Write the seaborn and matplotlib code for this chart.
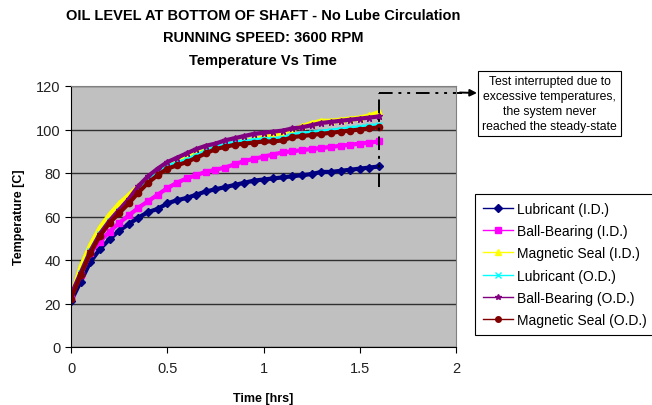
import matplotlib
matplotlib.use("Agg")
import matplotlib.pyplot as plt
import seaborn as sns
import numpy as np
import pandas as pd

# time axis [hrs]
time_hrs = [0.00, 0.05, 0.10, 0.15, 0.20, 0.25, 0.30, 0.35, 0.40, 0.45, 0.50,
            0.55, 0.60, 0.65, 0.70, 0.75, 0.80, 0.85, 0.90, 0.95, 1.00,
            1.05, 1.10, 1.15, 1.20, 1.25, 1.30, 1.35, 1.40, 1.45, 1.50,
            1.55, 1.60]

# temperatures [C]
lub_id = [21, 30, 39, 45, 49.5, 53.5, 56.5, 59.5, 62, 63.5, 66,
          67.5, 68.5, 70, 71.5, 72.5, 73.5, 74.5, 75.5, 76.5, 77,
          77.5, 78, 78.5, 79, 79.5, 80.5, 80.5, 81, 81.5, 82,
          82.5, 83]
ball_id = [23, 33, 43, 48.5, 53, 57, 60.5, 64, 67, 70, 73,
           75.5, 77.5, 79, 80.5, 81.5, 82.5, 84, 85.5, 86.5, 87.5,
           88.5, 89.5, 90, 90.5, 91, 91.5, 92, 92.5, 93, 93.5,
           94, 94.5]
mag_id = [23, 37, 47, 55, 61, 66, 70, 74, 77.5, 80.5, 83,
          85.5, 87.5, 89, 90.5, 92, 93, 94, 94.8, 95.5, 96.5,
          97.5, 98.5, 100, 101.5, 103, 104, 104, 104.5, 105, 105.5,
          106.5, 108]
lub_od = [23, 34, 44, 52, 58, 62.5, 67, 72, 76.5, 80, 83,
          84.5, 86, 88, 90, 92, 93, 94, 94.5, 95, 95.5,
          95.5, 96, 97.5, 98, 98.5, 99, 99.5, 100, 100.5, 101,
          101.5, 102]
ball_od = [24, 34, 44, 52, 58, 63, 68, 74, 78.5, 82, 85,
           87, 89, 91, 92.5, 93.5, 95, 96, 97, 98, 98.5,
           99, 99.5, 100.5, 101, 102, 103, 103.5, 104, 104.5, 105,
           105.5, 106]
mag_od = [22, 33, 43, 51, 57, 61.5, 66, 71, 75.5, 79, 82,
          83.5, 85, 87, 89, 91, 92, 93, 93.5, 94, 94.5,
          94.5, 95, 96.5, 97, 97.5, 98, 98.5, 99, 99.5, 100,
          100.5, 101]

series_names = ["Lubricant (I.D.)", "Ball-Bearing (I.D.)", "Magnetic Seal (I.D.)",
                "Lubricant (O.D.)", "Ball-Bearing (O.D.)", "Magnetic Seal (O.D.)"]
series_vals = [lub_id, ball_id, mag_id, lub_od, ball_od, mag_od]
colors = ["#000080", "#FF00FF", "#FFFF00", "#00FFFF", "#800080", "#800000"]
marks = ["D", "s", "^", "x", "*", "o"]

plt.rcParams["font.family"] = ["Liberation Sans", "DejaVu Sans"]

fig = plt.figure(figsize=(6.52, 4.06), dpi=100)
ax = fig.add_axes([71 / 652, 1 - 348 / 406, 385 / 652, 261 / 406])
ax.set_facecolor("#C0C0C0")

for name, vals, c, m in zip(series_names, series_vals, colors, marks):
    d = pd.DataFrame({"Time": time_hrs, "Temp": vals})
    sns.lineplot(data=d, x="Time", y="Temp", color=c, marker=m,
                 linewidth=3, markersize=4.5, markeredgewidth=1,
                 markeredgecolor=c, markerfacecolor=c,
                 sort=False, ax=ax, label=name)

ax.set_xlim(0, 2)
ax.set_ylim(0, 120)
ax.set_xticks([0, 0.5, 1, 1.5, 2])
ax.set_xticklabels(["0", "0.5", "1", "1.5", "2"])
ax.set_yticks(range(0, 121, 20))
ax.yaxis.grid(True, color="#303030", lw=1)
ax.set_axisbelow(True)
for s in ["left", "bottom"]:
    ax.spines[s].set_color("black")
for s in ["top", "right"]:
    ax.spines[s].set_color("#808080")
ax.tick_params(direction="out", length=4, color="black",
               labelsize=10.5, labelcolor="#222222")
ax.tick_params(axis="x", pad=6)
ax.set_xlabel("Time [hrs]", fontsize=9, fontweight="bold", labelpad=12)
ax.set_ylabel("Temperature [C]", fontsize=9, fontweight="bold", labelpad=8)

# legend
h, l = ax.get_legend_handles_labels()
leg = ax.legend(h, l, loc="upper left", bbox_to_anchor=(475 / 652, 1 - 195 / 406),
                bbox_transform=fig.transFigure, frameon=True, fancybox=False,
                edgecolor="black", framealpha=1, fontsize=10, handlelength=2.2,
                handletextpad=0.3, labelspacing=0.6, borderpad=0.55,
                borderaxespad=0)
leg.get_frame().set_linewidth(0.8)
for line in leg.get_lines():
    line.set_linewidth(1)
    line.set_markersize(4)

# title
fig.text(263 / 652, 1 - 16 / 406, "OIL LEVEL AT BOTTOM OF SHAFT - No Lube Circulation",
         ha="center", va="center", fontsize=10.5, fontweight="bold")
fig.text(263 / 652, 1 - 38 / 406, "RUNNING SPEED: 3600 RPM",
         ha="center", va="center", fontsize=10.5, fontweight="bold")
fig.text(263 / 652, 1 - 61 / 406, "Temperature Vs Time",
         ha="center", va="center", fontsize=10.5, fontweight="bold")

# interruption marker + note
dd = (0, (7, 3, 1.5, 3, 1.5, 3))
ax.plot([1.6, 1.6], [73.5, 117], color="black", lw=1.4, ls=dd, clip_on=False)
ax.plot([1.6, 2.03], [117, 117], color="black", lw=1.4, ls=dd, clip_on=False)
ax.annotate("", xy=(477 / 652, 1 - 94 / 406), xycoords="figure fraction",
            xytext=(2.02, 117), textcoords="data",
            arrowprops=dict(arrowstyle="-|>", color="black", lw=1.4,
                            mutation_scale=10, shrinkA=0, shrinkB=0))
fig.text(549.5 / 652, 1 - 104.5 / 406,
         "Test interrupted due to\nexcessive temperatures,\nthe system never\nreached the steady-state",
         ha="center", va="center", fontsize=8.8, linespacing=1.35,
         bbox=dict(boxstyle="square,pad=0.3", fc="white", ec="black", lw=0.8))

fig.savefig("out.png", dpi=100)
